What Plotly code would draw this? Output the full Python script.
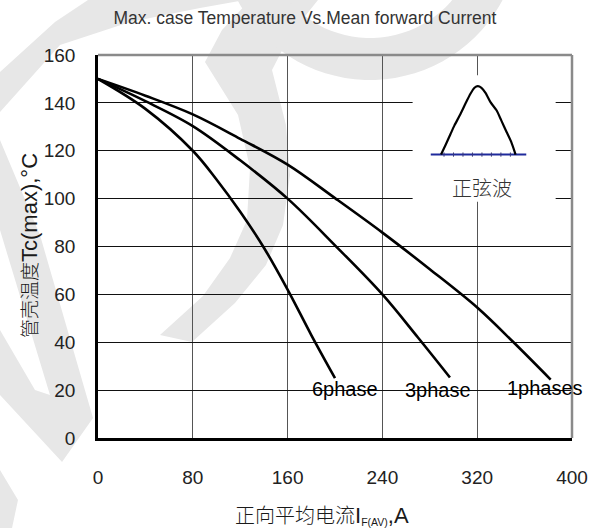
import numpy as np
import plotly.graph_objects as go

# ---- data -------------------------------------------------------------
current_1phase = [0, 40, 80, 120, 160, 200, 240, 280, 320, 350, 382]
tc_1phase = [150, 143, 135.2, 125, 114.2, 100.2, 85.8, 70.5, 54.5, 40.3, 24.4]

current_3phase = [0, 40, 80, 120, 160, 200, 240, 270, 297]
tc_3phase = [150, 140.7, 130.3, 116, 100, 80.5, 60, 42, 25.3]

current_6phase = [0, 40, 80, 100, 120, 140, 160, 180, 200]
tc_6phase = [150, 137.5, 120, 108, 94.5, 79.5, 62, 43, 25]

curve_labels = ["6phase", "3phase", "1phases"]
label_x = [208.6, 286.9, 377.6]
label_y = [20.6, 20.2, 21.0]

x_ticks = [0, 80, 160, 240, 320, 400]
y_ticks = [0, 20, 40, 60, 80, 100, 120, 140, 160]

# sine half-wave pictogram (drawn in axis units)
pulse_x = [289.5, 293.2, 297.4, 300.8, 305.3, 310.1, 314.3, 317.7, 320.5,
           323.6, 327.0, 331.2, 336.3, 340.3, 344.8, 348.7, 352.4]
pulse_y = [118.4, 122.3, 126.9, 130.6, 134.8, 139.7, 143.8, 146.3, 147.0,
           146.3, 144.2, 140.3, 136.9, 132.7, 127.8, 123.7, 118.4]
pulse_base_x = [280.8, 361.4]
pulse_base_y = [118.4, 118.4]
pulse_ticks_x = [292, 300, 308, 316, 324, 332, 340, 348]

# ---- page geometry ----------------------------------------------------
W, H = 600, 528
ML, MR, MT, MB = 98, 28, 55, 90
PW, PH = W - ML - MR, H - MT - MB


def to_paper(px, py):
    return (px - ML) / PW, (H - MB - py) / PH


def poly_path(points):
    pts = [to_paper(x, y) for x, y in points]
    return "M " + " L ".join(f"{x:.4f},{y:.4f}" for x, y in pts) + " Z"


CJK = "Noto Sans CJK SC"
LATIN = "Liberation Sans, Arial, sans-serif"
INK = "#1a1a1a"

fig = go.Figure()

for xs, ys in [(current_1phase, tc_1phase), (current_3phase, tc_3phase),
               (current_6phase, tc_6phase)]:
    fig.add_trace(go.Scatter(x=xs, y=ys, mode="lines",
                             line=dict(color="black", width=2.6, shape="spline", smoothing=1.0),
                             hoverinfo="skip", showlegend=False))

# pictogram
fig.add_trace(go.Scatter(x=pulse_base_x, y=pulse_base_y, mode="lines",
                         line=dict(color="#1f2a9c", width=2), showlegend=False, hoverinfo="skip"))
fig.add_trace(go.Scatter(x=pulse_ticks_x, y=[pulse_base_y[0]] * len(pulse_ticks_x), mode="markers",
                         marker=dict(symbol="line-ns", size=3, line=dict(color="#3a3a7a", width=1)),
                         showlegend=False, hoverinfo="skip"))
fig.add_trace(go.Scatter(x=pulse_x, y=pulse_y, mode="lines",
                         line=dict(color="black", width=2.2, shape="spline", smoothing=0.6),
                         showlegend=False, hoverinfo="skip"))

shapes = []

# light watermark in the background
watermark = [
    [(0, 72), (55, 22), (88, 0), (245, 0), (200, 8), (130, 22), (60, 45), (0, 112)],
    [(318, 0), (290, 35), (272, 70), (286, 125), (290, 175), (283, 225), (266, 265),
     (235, 303), (192, 342), (160, 335), (203, 296), (230, 258), (247, 220), (250, 168),
     (238, 115), (205, 62), (222, 30), (250, 0)],
    [(0, 140), (40, 235), (93, 418), (62, 462), (0, 395), (0, 330), (35, 390), (50, 395), (0, 230)],
    [(0, 470), (18, 500), (12, 528), (0, 528)],
]
for pts in watermark:
    shapes.append(dict(type="path", xref="paper", yref="paper", path=poly_path(pts),
                       fillcolor="#e7e7e7", line=dict(width=0), layer="below"))

# top-right arc of the watermark
ang = np.linspace(np.radians(15), np.radians(165), 40)
cx, cy = 370, -70
outer = [(cx + 150 * np.cos(a), cy + 150 * np.sin(a)) for a in ang]
inner = [(cx + 108 * np.cos(a), cy + 108 * np.sin(a)) for a in ang[::-1]]
shapes.append(dict(type="path", xref="paper", yref="paper", path=poly_path(outer + inner),
                   fillcolor="#e7e7e7", line=dict(width=0), layer="below"))

# white panel behind the pictogram
shapes.append(dict(type="rect", xref="x", yref="y", x0=265.5, x1=386.2, y0=98.7, y1=151.5,
                   fillcolor="white", line=dict(width=0), layer="between"))

# top and right frame
shapes.append(dict(type="line", xref="paper", yref="paper", x0=0, x1=1, y0=1, y1=1,
                   line=dict(color="#8a8a8a", width=2.5), layer="above"))
shapes.append(dict(type="line", xref="paper", yref="paper", x0=1, x1=1, y0=0, y1=1,
                   line=dict(color="#8a8a8a", width=2.5), layer="above"))

annotations = []
for t, lx, ly in zip(curve_labels, label_x, label_y):
    annotations.append(dict(x=lx, y=ly, xref="x", yref="y", text=t, showarrow=False,
                            font=dict(family=LATIN, size=20, color="black"),
                            xanchor="center", yanchor="middle"))

annotations.append(dict(x=324.2, y=104.5, xref="x", yref="y", text="正弦波", showarrow=False,
                        font=dict(family=CJK, size=20, color="#333", weight=300),
                        xanchor="center", yanchor="middle"))

ax, ay = to_paper(322, 514)
annotations.append(dict(
    x=ax, y=ay, xref="paper", yref="paper", showarrow=False, xanchor="center", yanchor="middle",
    text=("正向平均电流"
          f"<span style='font-family:{LATIN};font-size:22px'>I</span>"
          f"<span style='font-family:{LATIN};font-size:15px'><sub>F(AV)</sub></span>"
          f"<span style='font-family:{LATIN};font-size:22px'>,A</span>"),
    font=dict(family=CJK, size=20, color=INK, weight=300)))

yx, yy = to_paper(28, 246)
annotations.append(dict(
    x=yx, y=yy, xref="paper", yref="paper", showarrow=False, textangle=-90,
    xanchor="center", yanchor="middle",
    text=("管壳温度"
          f"<span style='font-family:{LATIN};font-size:22px'>Tc(max),°C</span>"),
    font=dict(family=CJK, size=19, color=INK, weight=300)))

fig.update_layout(
    width=W, height=H,
    margin=dict(l=ML, r=MR, t=MT, b=MB, pad=0),
    paper_bgcolor="white", plot_bgcolor="rgba(0,0,0,0)",
    title=dict(text="Max. case Temperature Vs.Mean forward Current",
               x=305 / W, xanchor="center", y=1 - 18 / H, yanchor="middle",
               yref="container", xref="container",
               font=dict(family=LATIN, size=17.5, color="#333")),
    shapes=shapes, annotations=annotations, showlegend=False,
)
fig.update_xaxes(range=[0, 400], tickvals=x_ticks, showgrid=True, gridcolor="#555", gridwidth=1.3,
                 zeroline=False, showline=True, linecolor="black", linewidth=2.5,
                 ticks="", ticklabelstandoff=20,
                 tickfont=dict(family=LATIN, size=19, color="#222"))
fig.update_yaxes(range=[0, 160], tickvals=y_ticks, showgrid=True, gridcolor="#111", gridwidth=1.1,
                 zeroline=False, showline=True, linecolor="black", linewidth=2.5,
                 ticks="", ticklabelstandoff=16,
                 tickfont=dict(family=LATIN, size=19, color="#222"))

fig.write_html("out.html")
